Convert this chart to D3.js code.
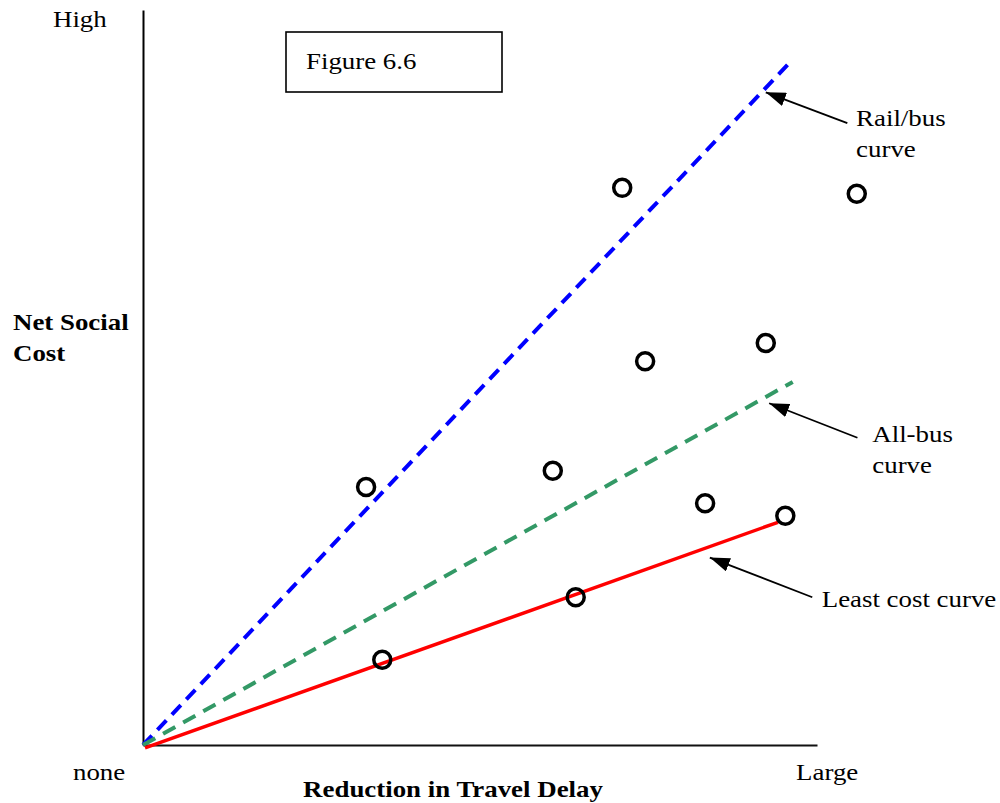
<!DOCTYPE html>
<html><head><meta charset="utf-8">
<script src="https://cdn.jsdelivr.net/npm/d3@7"></script>
<style>body{margin:0;background:#fff}svg{display:block}text{font-family:"Liberation Serif","Times New Roman",serif;fill:#000}</style>
</head><body>
<svg id="c" width="1000" height="803"></svg>
<script>
// ---- data ----
const points = [
  [3.31,3.51],[7.11,7.58],[10.59,7.50],[7.45,5.22],[9.24,5.47],
  [6.08,3.73],[8.34,3.29],[9.53,3.12],[6.42,2.01],[3.55,1.16]
];
const railBus = [[0,0],[9.60,9.29]];
const allBus = [[0,0],[9.64,4.94]];
const leastCost = [[0.03,-0.04],[9.42,3.03]];
const xTickLabels = ["none","Large"];
const yTickLabels = ["High"];
const annotations = [
  {lines:["Rail/bus","curve"], tip:[9.24,8.88], tail:[10.45,8.46], tx:10.58, ty:8.42},
  {lines:["All-bus","curve"], tip:[9.29,4.65], tail:[10.60,4.18], tx:10.82, ty:4.12},
  {lines:["Least cost curve"], tip:[8.41,2.55], tail:[9.93,2.01], tx:10.07, ty:1.88}
];

const svg = d3.select("#c");
const x = d3.scaleLinear().domain([0,10]).range([143,817]);
const y = d3.scaleLinear().domain([0,10]).range([745,10]);
const FS = 24, SX = 1.12;

function label(px, py, lines, opts={}) {
  const g = svg.append("g").attr("transform",`translate(${px},${py}) scale(${SX},1)`);
  const t = g.append("text").attr("x",0).attr("y",0).attr("font-size",FS)
    .attr("text-anchor",opts.anchor||"start").attr("font-weight",opts.bold?"bold":"normal");
  lines.forEach((l,i)=>t.append("tspan").attr("x",0).attr("dy",i?31:0).text(l));
  return g;
}

// axes
svg.append("g").attr("transform","translate(143,0)")
  .call(d3.axisLeft(y).tickValues([]).tickSizeOuter(0))
  .call(g=>g.select(".domain").attr("stroke","#000").attr("stroke-width",2));
svg.append("g").attr("transform","translate(0,745)")
  .call(d3.axisBottom(x).tickValues([]).tickSizeOuter(0))
  .call(g=>g.select(".domain").attr("stroke","#111").attr("stroke-width",2.2));

const line = d3.line().x(d=>x(d[0])).y(d=>y(d[1]));
svg.append("path").datum(railBus).attr("d",line).attr("fill","none")
  .attr("stroke","#0000ff").attr("stroke-width",4).attr("stroke-dasharray","13,8");
svg.append("path").datum(allBus).attr("d",line).attr("fill","none")
  .attr("stroke","#339966").attr("stroke-width",4).attr("stroke-dasharray","14,9");
svg.append("path").datum(leastCost).attr("d",line).attr("fill","none")
  .attr("stroke","#ff0000").attr("stroke-width",3.5);

svg.selectAll("circle.p").data(points).join("circle").attr("class","p")
  .attr("cx",d=>x(d[0])).attr("cy",d=>y(d[1])).attr("r",8.5)
  .attr("fill","none").attr("stroke","#000").attr("stroke-width",3.5);

// arrows
svg.append("defs").append("marker").attr("id","ah")
  .attr("viewBox","0 0 20 14").attr("refX",20).attr("refY",7)
  .attr("markerWidth",20).attr("markerHeight",14).attr("markerUnits","userSpaceOnUse")
  .attr("orient","auto")
  .append("path").attr("d","M0,0L20,7L0,14Z").attr("fill","#000");

annotations.forEach(a=>{
  svg.append("line").attr("x1",x(a.tail[0])).attr("y1",y(a.tail[1]))
    .attr("x2",x(a.tip[0])).attr("y2",y(a.tip[1]))
    .attr("stroke","#000").attr("stroke-width",1.8).attr("marker-end","url(#ah)");
  label(x(a.tx), y(a.ty), a.lines);
});

// tick labels
label(x(0)-70, 780, [xTickLabels[0]]);
label(x(9.69), 780, [xTickLabels[1]]);
label(53, y(9.77), [yTickLabels[0]]);

// axis titles
label(453, 797, ["Reduction in Travel Delay"], {anchor:"middle", bold:true});
label(13, 330, ["Net Social","Cost"], {bold:true});

// figure box
svg.append("rect").attr("x",286).attr("y",32).attr("width",216).attr("height",60)
  .attr("fill","none").attr("stroke","#000").attr("stroke-width",1.6);
label(306, 69, ["Figure 6.6"]);
</script>
</body></html>
